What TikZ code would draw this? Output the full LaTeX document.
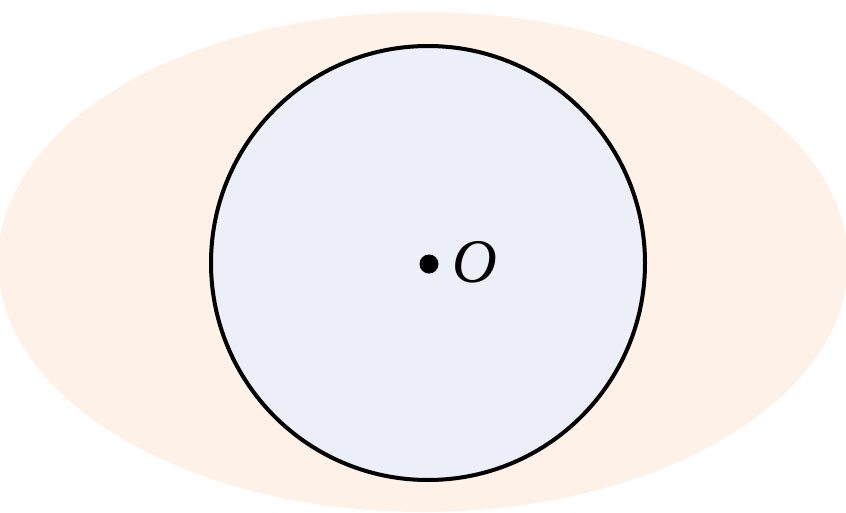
\documentclass[tikz,border=0pt]{standalone}
\usepackage{fontspec}
\setmainfont{Liberation Serif}
\definecolor{peach}{HTML}{FEF2E8}
\definecolor{disk}{HTML}{ECEEF8}
\tikzset{
  region/.style={fill=peach, draw=none},
  circ/.style={fill=disk, draw=black, line width=4pt},
  centerdot/.style={circle, fill=black, inner sep=0pt, minimum size=19pt},
  lbl/.style={font=\fontsize{62}{70}\selectfont\itshape, inner sep=0pt, anchor=west}
}
\begin{document}
\begin{tikzpicture}[x=1pt,y=-1pt]
\useasboundingbox (0,0) rectangle (846,512);
\fill[region] (423,262) ellipse [x radius=425, y radius=250];
\draw[circ] (428,263) circle [radius=217];
\node[centerdot] (o) at (429,264) {};
\node[lbl] (olabel) at (452,262) {O};
\end{tikzpicture}
\end{document}
